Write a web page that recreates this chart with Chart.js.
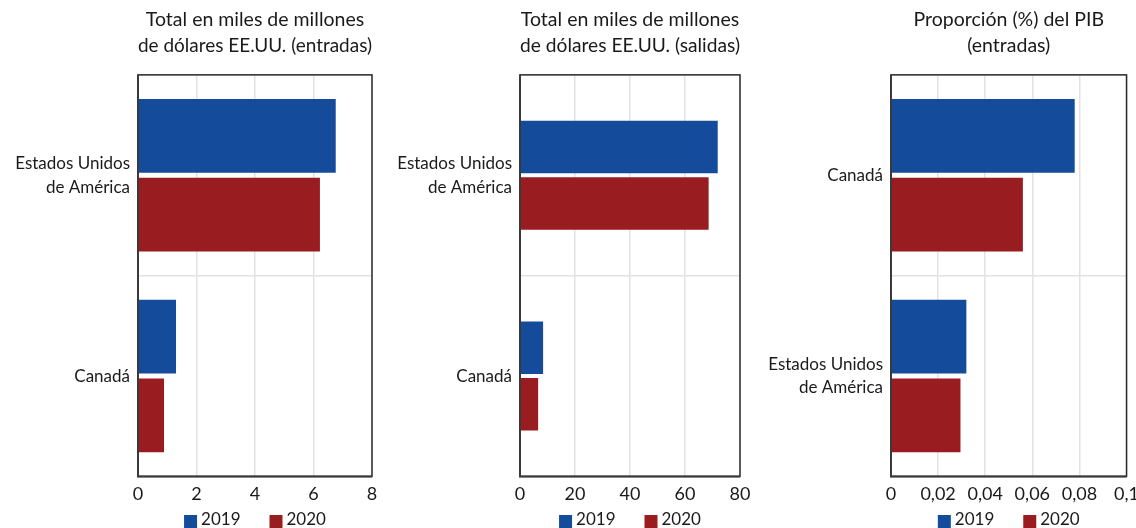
<!DOCTYPE html>
<html><head><meta charset="utf-8">
<script src="https://cdn.jsdelivr.net/npm/chart.js@4.4.1/dist/chart.umd.min.js"></script>
<style>
html,body{margin:0;padding:0;background:#fff;}
#wrap{position:relative;width:1136px;height:528px;overflow:hidden;}
canvas{position:absolute;top:0;}
</style></head><body>
<div id="wrap">
<canvas id="c1" width="385" height="528" style="left:0px"></canvas>
<canvas id="c2" width="380" height="528" style="left:385px"></canvas>
<canvas id="c3" width="381" height="528" style="left:765px"></canvas>
</div>
<script>
// ---- data ----
const seriesNames = ['2019', '2020'];
const seriesColors = ['#144b9b', '#991c20'];

const title1 = ['Total en miles de millones', 'de dólares EE.UU. (entradas)'];
const cats1 = [['Estados Unidos', 'de América'], 'Canadá'];
const inflow2019 = [6.76, 1.30];
const inflow2020 = [6.22, 0.89];
const ticks1 = [0, 2, 4, 6, 8];

const title2 = ['Total en miles de millones', 'de dólares EE.UU. (salidas)'];
const cats2 = [['Estados Unidos', 'de América'], 'Canadá'];
const outflow2019 = [71.9, 8.4];
const outflow2020 = [68.6, 6.6];
const ticks2 = [0, 20, 40, 60, 80];

const title3 = ['Proporción (%) del PIB', '(entradas)'];
const cats3 = ['Canadá', ['Estados Unidos', 'de América']];
const gdp2019 = [0.078, 0.032];
const gdp2020 = [0.056, 0.0295];
const ticks3 = [0, 0.02, 0.04, 0.06, 0.08, 0.1];

Chart.defaults.font.family = 'Lato, "Open Sans", sans-serif';
Chart.defaults.color = '#1a1a1a';

const frame = {
  id: 'frame',
  afterDatasetsDraw(chart) {
    const {ctx, chartArea: a} = chart;
    ctx.save();
    ctx.strokeStyle = '#2b2b2b'; ctx.lineWidth = 1.5;
    ctx.strokeRect(a.left, a.top, a.right - a.left, a.bottom - a.top);
    ctx.lineWidth = 2; ctx.strokeStyle = '#3a3a3a';
    ctx.beginPath(); ctx.moveTo(a.left, a.top); ctx.lineTo(a.left, a.bottom); ctx.lineTo(a.right, a.bottom); ctx.stroke();
    ctx.restore();
  }
};

const miniLegend = {
  id: 'miniLegend',
  afterDraw(chart) {
    const {ctx, chartArea: a} = chart;
    const ds = chart.data.datasets;
    ctx.save();
    ctx.font = '17px Lato, "Open Sans", sans-serif';
    const box = 13, gapText = 4, gapItem = 29;
    const widths = ds.map(d => box + gapText + ctx.measureText(d.label).width);
    const total = widths.reduce((s, w) => s + w, 0) + gapItem * (ds.length - 1);
    let x = (a.left + a.right) / 2 - total / 2;
    const yc = 520;
    ds.forEach((d, i) => {
      ctx.fillStyle = d.backgroundColor;
      ctx.fillRect(x, yc - 5, box, box);
      ctx.fillStyle = '#1a1a1a'; ctx.textBaseline = 'middle'; ctx.textAlign = 'left';
      ctx.fillText(d.label, x + box + gapText, yc);
      x += widths[i] + gapItem;
    });
    ctx.restore();
  }
};

function fmtComma(v) { return String(Number(v.toFixed(4))).replace('.', ','); }

function makeChart(id, title, cats, v19, v20, ticks, yWidth, padRight, catPct, barPct) {
  const step = ticks[1] - ticks[0];
  new Chart(document.getElementById(id), {
    type: 'bar',
    data: {
      labels: cats,
      datasets: [
        {label: seriesNames[0], data: v19, backgroundColor: seriesColors[0], borderWidth: 0,
         categoryPercentage: catPct, barPercentage: barPct},
        {label: seriesNames[1], data: v20, backgroundColor: seriesColors[1], borderWidth: 0,
         categoryPercentage: catPct, barPercentage: barPct}
      ]
    },
    options: {
      indexAxis: 'y',
      responsive: false,
      animation: false,
      layout: {padding: {left: 0, right: padRight, top: 0, bottom: 16}},
      plugins: {
        legend: {display: false},
        tooltip: {enabled: false},
        title: {display: true, text: title, fullSize: false, color: '#1a1a1a',
                font: {size: 19.5, weight: 'normal', lineHeight: 1.33}, padding: {top: 7, bottom: 16}}
      },
      scales: {
        x: {
          type: 'linear', min: ticks[0], max: ticks[ticks.length - 1],
          grid: {color: '#e2e2e2', lineWidth: 1.5, drawTicks: false},
          border: {display: false},
          ticks: {stepSize: step, padding: 7, font: {size: 18}, color: '#1a1a1a',
                  callback: v => fmtComma(v)}
        },
        y: {
          type: 'category', offset: true,
          grid: {color: '#e2e2e2', lineWidth: 1.5, drawTicks: false, offset: true},
          border: {display: false},
          ticks: {padding: 8, font: {size: 17, lineHeight: 1.41}, color: '#1a1a1a'},
          afterFit(s) { s.width = yWidth; }
        }
      }
    },
    plugins: [frame, miniLegend]
  });
}

makeChart('c1', title1, cats1, inflow2019, inflow2020, ticks1, 138, 13, 0.784, 0.936);
makeChart('c2', title2, cats2, outflow2019, outflow2020, ticks2, 135, 25, 0.563, 0.93);
makeChart('c3', title3, cats3, gdp2019, gdp2020, ticks3, 126, 0, 0.784, 0.936);
</script>
</body></html>
